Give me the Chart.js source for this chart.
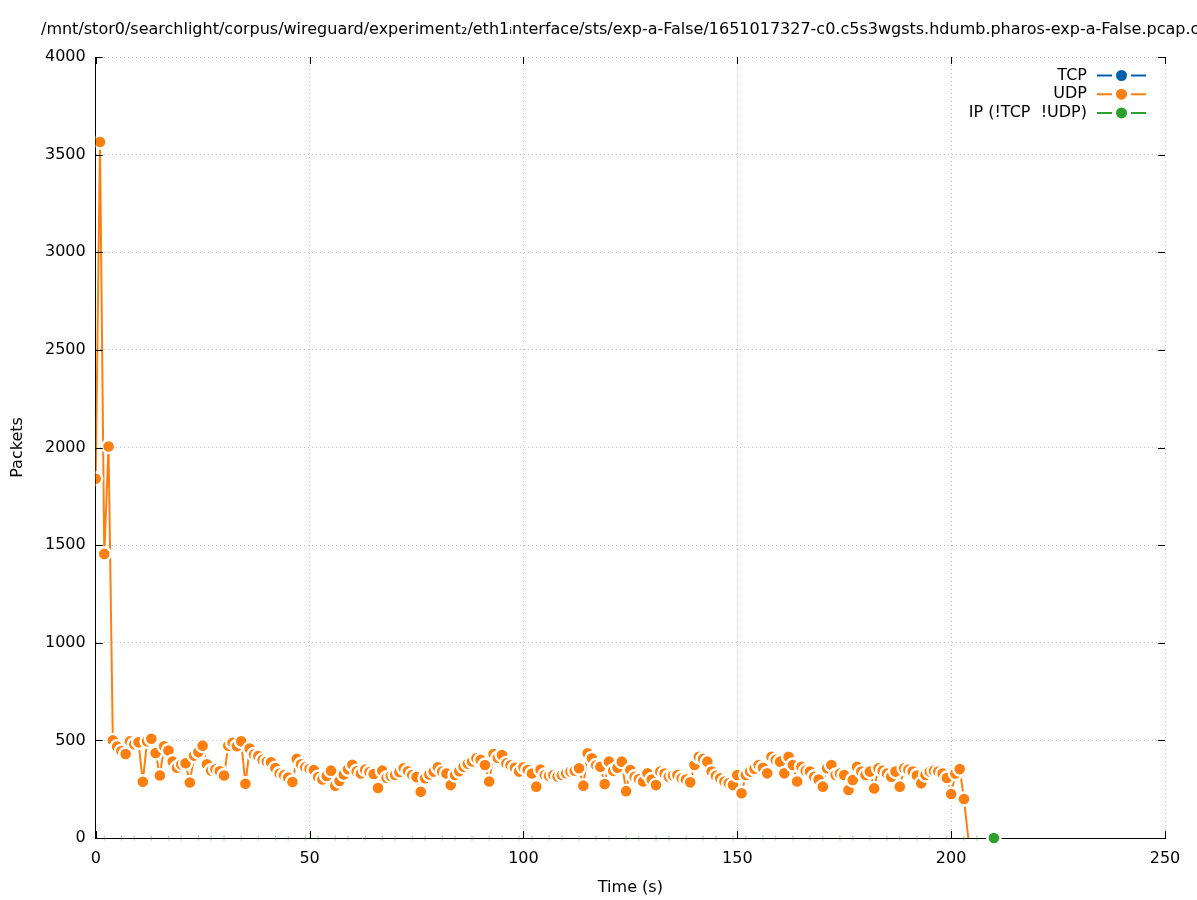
<!DOCTYPE html>
<html><head><meta charset="utf-8">
<script src="https://cdn.jsdelivr.net/npm/chart.js@4"></script>
<style>html,body{margin:0;padding:0;background:#fff;}</style>
</head><body>
<canvas id="c" width="1197" height="900" style="width:1197px;height:900px;display:block"></canvas>
<script>
const titleText = "/mnt/stor0/searchlight/corpus/wireguard/experiment\u2082/eth1\u1D62nterface/sts/exp-a-False/1651017327-c0.c5s3wgsts.hdumb.pharos-exp-a-False.pcap.csv";
const xAxisTitle = "Time (s)";
const yAxisTitle = "Packets";
const seriesNames = ["TCP", "UDP", "IP (!TCP  !UDP)"];
const seriesColors = ["#0060ad", "#ff7f0e", "#2ca02c"];

const tcpTimes = [];
const tcpValues = [];

const udpTimes = [0,1,2,3,4,5,6,7,8,9,10,11,12,13,14,15,16,17,18,19,20,21,22,23,24,25,26,27,28,29,30,31,32,33,34,35,36,37,38,39,40,41,42,43,44,45,46,47,48,49,50,51,52,53,54,55,56,57,58,59,60,61,62,63,64,65,66,67,68,69,70,71,72,73,74,75,76,77,78,79,80,81,82,83,84,85,86,87,88,89,90,91,92,93,94,95,96,97,98,99,100,101,102,103,104,105,106,107,108,109,110,111,112,113,114,115,116,117,118,119,120,121,122,123,124,125,126,127,128,129,130,131,132,133,134,135,136,137,138,139,140,141,142,143,144,145,146,147,148,149,150,151,152,153,154,155,156,157,158,159,160,161,162,163,164,165,166,167,168,169,170,171,172,173,174,175,176,177,178,179,180,181,182,183,184,185,186,187,188,189,190,191,192,193,194,195,196,197,198,199,200,201,202,203,204];
const udpValues = [1840,3565,1455,2005,500,468,445,430,495,480,490,288,495,508,435,320,470,448,392,360,377,383,284,422,440,473,378,345,352,342,320,472,488,470,495,278,458,428,420,400,392,388,358,330,322,310,287,405,378,362,355,348,312,300,318,345,268,292,325,352,375,342,330,350,338,328,256,345,308,318,323,338,357,342,323,312,237,306,325,340,362,340,330,271,323,342,365,380,392,408,400,374,289,430,410,425,382,372,360,340,362,348,330,263,350,323,318,323,315,323,332,340,345,357,268,434,408,372,365,276,391,345,360,391,240,348,314,302,289,331,300,271,340,330,314,320,323,306,300,285,374,416,405,391,340,318,306,289,280,271,323,229,323,340,355,374,360,331,416,400,391,331,416,374,289,365,345,340,314,300,263,357,374,323,330,323,246,297,365,340,323,340,254,357,345,330,314,340,263,357,350,340,320,280,323,340,345,340,330,307,225,330,353,200,0];

const ipTimes = [2,6,9,13,17,20,24,27,30,34,38,42,45,49,52,56,59,63,67,70,74,77,81,84,88,92,95,99,102,106,109,113,117,120,124,127,131,134,138,142,145,149,152,156,159,163,167,170,174,177,181,185,188,192,195,199,203,206,210];
const ipValues = [0,0,0,0,0,0,0,0,0,0,0,0,0,0,0,0,0,0,0,0,0,0,0,0,0,0,0,0,0,0,0,0,0,0,0,0,0,0,0,0,0,0,0,0,0,0,0,0,0,0,0,0,0,0,0,0,0,0,0];

const xTickStep = 50, xMin = 0, xMax = 250;
const yTickStep = 500, yMin = 0, yMax = 4000;

const FONT = '"DejaVu Sans", sans-serif';
const FS = 16;

function pts(ts, vs) { return ts.map((t, i) => ({x: t, y: vs[i]})); }

const titlePlugin = {
  id: 'gpTitle',
  afterDraw(chart) {
    const ctx = chart.ctx;
    ctx.save();
    ctx.font = FS + 'px ' + FONT;
    ctx.fillStyle = '#000';
    ctx.textAlign = 'left';
    ctx.textBaseline = 'middle';
    ctx.fillText(titleText, 41, 30);
    ctx.restore();
  }
};

const ticksPlugin = {
  id: 'gpTicks',
  afterDatasetsDraw(chart) {
    const ctx = chart.ctx, a = chart.chartArea;
    const xs = chart.scales.x, ys = chart.scales.y;
    ctx.save();
    ctx.strokeStyle = '#000';
    ctx.lineWidth = 1;
    ctx.beginPath();
    xs.ticks.forEach(t => {
      const px = Math.round(xs.getPixelForValue(t.value)) + 0.5;
      ctx.moveTo(px, a.bottom); ctx.lineTo(px, a.bottom - 7);
      ctx.moveTo(px, a.top); ctx.lineTo(px, a.top + 7);
    });
    ys.ticks.forEach(t => {
      const py = Math.round(ys.getPixelForValue(t.value)) + 0.5;
      ctx.moveTo(a.left, py); ctx.lineTo(a.left + 7, py);
      ctx.moveTo(a.right, py); ctx.lineTo(a.right - 7, py);
    });
    ctx.stroke();
    ctx.restore();
  }
};

const legendPlugin = {
  id: 'gpLegend',
  afterDraw(chart) {
    const ctx = chart.ctx;
    ctx.save();
    ctx.font = FS + 'px ' + FONT;
    ctx.textAlign = 'right';
    ctx.textBaseline = 'middle';
    seriesNames.forEach((name, i) => {
      const y = 75.5 + i * 18.7;
      ctx.fillStyle = '#000';
      ctx.fillText(name, 1087, y);
      ctx.strokeStyle = seriesColors[i];
      ctx.lineWidth = 2;
      ctx.beginPath();
      ctx.moveTo(1097, y); ctx.lineTo(1112, y);
      ctx.moveTo(1131, y); ctx.lineTo(1146, y);
      ctx.stroke();
      ctx.fillStyle = seriesColors[i];
      ctx.beginPath(); ctx.arc(1121.5, y, 5.5, 0, Math.PI * 2); ctx.fill();
    });
    ctx.restore();
  }
};

const lastIdx = (arr) => arr.length - 1;

new Chart(document.getElementById('c'), {
  type: 'line',
  data: {
    datasets: [
      {
        label: seriesNames[0], data: pts(tcpTimes, tcpValues),
        borderColor: seriesColors[0], backgroundColor: seriesColors[0],
        borderWidth: 2, pointRadius: 6.5, pointBorderWidth: 2.4, pointBorderColor: '#fff', order: 3
      },
      {
        label: seriesNames[1], data: pts(udpTimes, udpValues),
        borderColor: seriesColors[1], backgroundColor: seriesColors[1],
        borderWidth: 2, tension: 0,
        pointRadius: (c) => c.dataIndex === lastIdx(udpValues) ? 0 : 6.5,
        pointBorderWidth: 2.4, pointBorderColor: '#fff', pointBackgroundColor: seriesColors[1],
        order: 2
      },
      {
        label: seriesNames[2], data: pts(ipTimes, ipValues),
        showLine: false,
        borderColor: seriesColors[2], backgroundColor: seriesColors[2],
        pointStyle: (c) => c.dataIndex === lastIdx(ipValues) ? 'circle' : 'line',
        rotation: (c) => c.dataIndex === lastIdx(ipValues) ? 0 : 90,
        pointRadius: (c) => c.dataIndex === lastIdx(ipValues) ? 6.5 : 2.5,
        pointBorderWidth: (c) => c.dataIndex === lastIdx(ipValues) ? 2.4 : 1,
        pointBorderColor: (c) => c.dataIndex === lastIdx(ipValues) ? '#fff' : 'rgba(44,160,44,0.5)',
        pointBackgroundColor: seriesColors[2],
        clip: false,
        order: 1
      }
    ]
  },
  options: {
    responsive: false,
    animation: false,
    events: [],
    layout: { padding: { left: 10, right: 32, top: 57, bottom: 0 } },
    plugins: { legend: { display: false }, title: { display: false }, tooltip: { enabled: false } },
    scales: {
      x: {
        type: 'linear', min: xMin, max: xMax,
        ticks: { stepSize: xTickStep, color: '#000', font: { family: FONT, size: FS, lineHeight: 1 }, padding: 13, maxRotation: 0, autoSkip: false,
                 callback: (v) => String(v) },
        grid: { color: '#c4c4c4', lineWidth: 1, drawTicks: false },
        border: { display: true, color: '#000', width: 1, dash: [1, 3] },
        title: { display: true, text: xAxisTitle, color: '#000', font: { family: FONT, size: FS, lineHeight: 1 }, padding: { top: 0, bottom: 4 } }
      },
      y: {
        type: 'linear', min: yMin, max: yMax,
        ticks: { stepSize: yTickStep, color: '#000', font: { family: FONT, size: FS, lineHeight: 1 }, padding: 10, autoSkip: false,
                 callback: (v) => String(v) },
        grid: { color: '#c4c4c4', lineWidth: 1, drawTicks: false },
        border: { display: true, color: '#000', width: 1, dash: [1, 3] },
        title: { display: true, text: yAxisTitle, color: '#000', font: { family: FONT, size: FS, lineHeight: 1 }, padding: { top: 0, bottom: 9 } }
      }
    }
  },
  plugins: [titlePlugin, ticksPlugin, legendPlugin]
});
</script>
</body></html>
